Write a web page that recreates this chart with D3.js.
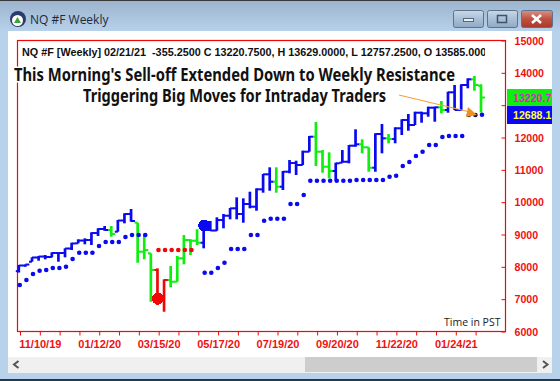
<!DOCTYPE html>
<html lang="en">
<head>
<meta charset="UTF-8">
<title>NQ #F Weekly</title>
<script src="https://d3js.org/d3.v7.min.js"></script>
<style>
    html, body { margin: 0; padding: 0; background: #fff; overflow: hidden; }
    svg { display: block; }
    .axis-label { font-family: "Liberation Sans", Arial, sans-serif; font-weight: bold; font-size: 11px; fill: #f01010; }
    .price-label { font-size: 10.6px; }
    .header { font-family: "Liberation Sans", Arial, sans-serif; font-weight: bold; font-size: 10.8px; fill: #101010; }
    .headline { font-family: "Noto Sans", sans-serif; font-weight: bold; font-size: 18px; fill: #111; stroke: #fff; stroke-width: 3px; paint-order: stroke; }
</style>
</head>
<body>
<svg id="chart" width="560" height="381"></svg>
<script>
// weekly bars, first one is the week of 10/20/19
const highs = [8041,8056,8279,8319,8350,8433,8433,8557,8730,8835,8866,9052,9176,9247,9247,9432,9640,9773,9349,8938,8402,7938,7598,8010,8319,8968,8835,9145,9349,9402,9516,9618,9804,10134,10103,10308,10413,10855,11062,11062,10948,11288,11267,11576,12031,12464,11597,11526,11205,11597,11752,12238,11928,11681,12114,12402,12092,12300,12547,12711,12782,12782,12937,12937,13113,13401,13608,13630,13815,13886,13629];
const lows = [7809,7988,8143,8174,8217,8279,8143,8279,8504,8712,8681,8659,8938,9101,8916,9071,9330,9380,8112,8217,6905,6803,6596,7351,7524,8062,8350,8659,8557,9101,9101,9176,9454,9454,9349,9794,9720,10277,10339,10277,10360,10877,10824,11134,11545,11103,10895,10722,10648,11205,11186,11700,11495,10926,10926,11495,11805,11805,12061,12194,12371,12442,12627,12473,12733,12751,12835,12813,13506,13432,12757];
const closes = [8025,8056,8273,8303,8288,8412,8412,8551,8706,8798,8814,9030,9154,9123,8999,9417,9618,9401,8452,8504,7886,7082,7577,7524,8248,8814,8792,8730,9123,9108,9432,9565,9794,9618,9927,9844,10382,10846,10617,10462,10926,11195,11134,11545,12009,11545,11081,10948,11186,11235,11731,11774,11681,11050,12092,11959,11938,12269,12525,12371,12751,12733,12906,12918,12835,13382,12835,13608,13784,13608,13220.75];
const opens = [7850,8025,8143,8273,8303,8288,8412,8412,8551,8712,8798,8814,9030,9154,9123,9071,9417,9618,9349,8452,8402,7886,7082,7577,7524,8248,8814,8792,8730,9123,9108,9432,9565,9794,9618,9927,9844,10382,10846,10617,10462,10926,11195,11134,11545,12009,11545,11081,10948,11205,11235,11731,11774,11681,11050,12092,11959,11938,12269,12525,12371,12751,12733,12906,12918,12835,13382,12835,13608,13784,13585];
// 1 blue, 2 green, 3 red
const barState = [1,1,1,1,1,1,1,1,1,1,1,1,1,1,2,1,1,1,2,2,2,3,3,2,2,2,2,2,1,1,1,1,1,1,1,1,1,1,1,2,1,1,1,1,1,2,2,2,1,1,1,1,2,2,1,1,2,1,1,1,1,1,1,1,2,1,1,1,1,2,2];
const stops = [7422,7577,7762,7864,7886,7948,7948,7988,8226,8421,8421,8421,8628,8752,8752,8752,8907,8970,8970,8970,null,8505,8505,8505,8505,8505,8505,null,7802,7802,7948,8112,8536,8536,8536,8970,8970,9411,9473,9473,9473,9927,9927,10206,10648,10648,10648,10648,10648,10648,10648,10670,10670,10670,10670,10670,10772,10803,11103,11226,11412,11545,11752,11752,11999,12030,12030,12030,12680,12680,12688];
// 1 blue, 2 red, 3 black
const stopState = [1,1,1,1,1,1,1,1,1,1,1,1,1,1,1,1,1,1,1,1,1,2,2,2,2,2,2,1,1,1,1,1,1,1,1,1,1,1,1,1,1,1,1,1,1,1,1,1,1,1,1,1,1,1,1,1,1,1,1,1,1,1,1,1,1,1,1,1,3,3,1];
const bigDots = [{ bar: 21, price: 7000, state: 2 }, { bar: 28, price: 9260, state: 1 }];

const dateLabels = ["11/10/19","01/12/20","03/15/20","05/17/20","07/19/20","09/20/20","11/22/20","01/24/21"];
const labelBars = [3,12,21,30,39,48,57,66];
const xTickBars = d3.range(0, 70, 3);
const priceTicks = [6000,7000,8000,9000,10000,11000,12000,13000,14000,15000];
const hiddenPriceLabel = 13000; // sits under the badges

const headerText = "NQ #F [Weekly] 02/21/21  -355.2500 C 13220.7500, H 13629.0000, L 12757.2500, O 13585.0000";
const headlines = ["This Morning's Sell-off Extended Down to Weekly Resistance", "Triggering Big Moves for Intraday Traders"];
const lastPrices = ["13220.7", "12688.1"];

const svg = d3.select("#chart");
const defs = svg.append("defs");

const grad = defs.append("linearGradient").attr("id", "titlebar").attr("x1", 0).attr("y1", 0).attr("x2", 0).attr("y2", 1);
grad.append("stop").attr("offset", "0%").attr("stop-color", "#9bb3cc");
grad.append("stop").attr("offset", "100%").attr("stop-color", "#b9d2ec");

const btnGrad = defs.append("linearGradient").attr("id", "btn").attr("x1", 0).attr("y1", 0).attr("x2", 0).attr("y2", 1);
btnGrad.append("stop").attr("offset", "0%").attr("stop-color", "#c8d8e8");
btnGrad.append("stop").attr("offset", "50%").attr("stop-color", "#a9bfd6");
btnGrad.append("stop").attr("offset", "100%").attr("stop-color", "#90a9c4");

const closeGrad = defs.append("linearGradient").attr("id", "btnClose").attr("x1", 0).attr("y1", 0).attr("x2", 0).attr("y2", 1);
closeGrad.append("stop").attr("offset", "0%").attr("stop-color", "#d8938a");
closeGrad.append("stop").attr("offset", "50%").attr("stop-color", "#c0503f");
closeGrad.append("stop").attr("offset", "100%").attr("stop-color", "#a83a2c");

defs.append("clipPath").attr("id", "headerClip").append("rect").attr("x", 18).attr("y", 41).attr("width", 467).attr("height", 22);
defs.append("clipPath").attr("id", "badgeClip").append("rect").attr("x", 507).attr("y", 89).attr("width", 45).attr("height", 35);

// window frame
svg.append("rect").attr("width", 560).attr("height", 381).attr("fill", "#b9d2ec");
svg.append("rect").attr("width", 560).attr("height", 32).attr("fill", "url(#titlebar)");
svg.append("rect").attr("width", 560).attr("height", 1).attr("fill", "#3a3a3a");
svg.append("rect").attr("y", 379).attr("width", 560).attr("height", 2).attr("fill", "#1f3a44");
svg.append("rect").attr("x", 8).attr("y", 31).attr("width", 544).attr("height", 326).attr("fill", "#fff");

// title bar
svg.append("circle").attr("cx", 18).attr("cy", 19).attr("r", 8).attr("fill", "#2d3a6e");
svg.append("circle").attr("cx", 17.5).attr("cy", 20.5).attr("r", 5.5).attr("fill", "#fff");
svg.append("path").attr("d", "M14 23L17.5 17L21 23Z").attr("fill", "#3aa53a");
svg.append("text").attr("x", 30).attr("y", 24).attr("font-family", "'Open Sans', sans-serif").attr("font-size", 12).attr("fill", "#1c2a3a").text("NQ #F Weekly");

const buttons = [[453, 30, "url(#btn)"], [487, 30, "url(#btn)"], [521, 31, "url(#btnClose)"]];
svg.selectAll("rect.winbtn").data(buttons).enter().append("rect")
    .attr("class", "winbtn")
    .attr("x", d => d[0] + 0.5).attr("y", 10.5)
    .attr("width", d => d[1]).attr("height", 17).attr("rx", 2)
    .attr("fill", d => d[2]).attr("stroke", "#5c7389");
svg.append("rect").attr("x", 463.5).attr("y", 18.5).attr("width", 10).attr("height", 3).attr("fill", "#e8eef4").attr("stroke", "#55697d");
svg.append("rect").attr("x", 497.5).attr("y", 15.5).attr("width", 9).attr("height", 7).attr("fill", "none").attr("stroke", "#3f5266").attr("stroke-width", 1.5);
svg.append("path").attr("d", "M532 15L541 23M541 15L532 23").attr("stroke", "#fff").attr("stroke-width", 2.6);

// scroll bar
svg.append("rect").attr("x", 8).attr("y", 357).attr("width", 544).attr("height", 16).attr("fill", "#f0f0f0");
svg.append("rect").attr("x", 305).attr("y", 357).attr("width", 232).attr("height", 15).attr("fill", "#cdcdcd");
svg.append("path").attr("d", "M18.5 361L14 364.5L18.5 368").attr("fill", "none").attr("stroke", "#555").attr("stroke-width", 2);
svg.append("path").attr("d", "M543 361L547.5 364.5L543 368").attr("fill", "none").attr("stroke", "#555").attr("stroke-width", 2);

// scales
const x = d3.scaleLinear().domain([0, 70]).range([18.8, 481]);
const y = d3.scaleLinear().domain([6000, 15000]).range([331, 40]);
const barColor = d3.scaleOrdinal().domain([1, 2, 3]).range(["#0a0af0", "#10ee10", "#f00808"]);
const stopColor = d3.scaleOrdinal().domain([1, 2, 3]).range(["#0a0af0", "#f00808", "#101040"]);

// plot frame
svg.append("rect").attr("x", 17.5).attr("y", 40.5).attr("width", 488).attr("height", 291)
    .attr("fill", "none").attr("stroke", "#f00808").attr("stroke-width", 1.2);

// x axis: a tick every third bar, a label every ninth
const xAxis = d3.axisBottom(x).tickValues(xTickBars).tickSize(4).tickSizeOuter(0)
    .tickFormat(d => { const k = labelBars.indexOf(d); return k < 0 ? "" : dateLabels[k]; });
const gx = svg.append("g").attr("transform", "translate(1.2,331.5)").call(xAxis);
gx.select(".domain").remove();
gx.selectAll("line").attr("stroke", "#f00808");
gx.selectAll("text").attr("class", "axis-label").attr("y", 9).attr("dy", "0.71em").attr("text-anchor", "middle");

// price axis
const yAxis = d3.axisRight(y).tickValues(priceTicks).tickSize(-4).tickSizeOuter(0)
    .tickFormat(d => d === hiddenPriceLabel ? "" : d3.format("d")(d));
const gy = svg.append("g").attr("transform", "translate(505.5,0.5)").call(yAxis);
gy.select(".domain").remove();
gy.selectAll("line").attr("stroke", "#f00808");
gy.selectAll("text").attr("class", "axis-label price-label").attr("x", 9).attr("dy", "0.35em");

// bars
const bars = svg.append("g").selectAll("g").data(highs).enter().append("g")
    .attr("stroke", (d, i) => barColor(barState[i]));
bars.append("line")
    .attr("stroke-width", 2.7)
    .attr("x1", (d, i) => x(i)).attr("x2", (d, i) => x(i))
    .attr("y1", d => y(d)).attr("y2", (d, i) => y(lows[i]));
bars.append("line")
    .attr("stroke-width", 2)
    .attr("x1", (d, i) => x(i) - 3).attr("x2", (d, i) => x(i))
    .attr("y1", (d, i) => y(opens[i])).attr("y2", (d, i) => y(opens[i]));
bars.append("line")
    .attr("stroke-width", 2)
    .attr("x1", (d, i) => x(i)).attr("x2", (d, i) => x(i) + 4)
    .attr("y1", (d, i) => y(closes[i])).attr("y2", (d, i) => y(closes[i]));

// stop dots
const stopRows = stops.map((price, bar) => ({ bar, price, state: stopState[bar] })).filter(d => d.price !== null);
svg.append("g").selectAll("circle").data(stopRows).enter().append("circle")
    .attr("cx", d => x(d.bar) + 1)
    .attr("cy", d => y(d.price))
    .attr("r", 2.3)
    .attr("fill", d => stopColor(d.state));

svg.append("g").attr("shape-rendering", "crispEdges").selectAll("circle").data(bigDots).enter().append("circle")
    .attr("cx", d => x(d.bar) + 0.5)
    .attr("cy", d => y(d.price))
    .attr("r", 6)
    .attr("fill", d => stopColor(d.state));

// badges with the last values
svg.append("rect").attr("x", 507).attr("y", 89).attr("width", 45).attr("height", 17).attr("fill", "#10ee10");
svg.append("rect").attr("x", 507).attr("y", 106).attr("width", 45).attr("height", 18).attr("fill", "#0a0af0");
const badge = svg.append("g").attr("clip-path", "url(#badgeClip)");
badge.append("text").attr("class", "axis-label price-label").attr("x", 513).attr("y", y(closes[70]) + 4.5).style("fill", "#e020d0").text(lastPrices[0]);
badge.append("text").attr("class", "axis-label price-label").attr("x", 513).attr("y", y(stops[70]) + 4).style("fill", "#ffff40").text(lastPrices[1]);

// header and headlines
svg.append("g").attr("clip-path", "url(#headerClip)").append("text")
    .attr("class", "header").attr("x", 22).attr("y", 56).attr("xml:space", "preserve").text(headerText);

svg.append("text").attr("class", "headline").attr("x", 14).attr("y", 81)
    .attr("textLength", 441).attr("lengthAdjust", "spacingAndGlyphs").text(headlines[0]);
svg.append("text").attr("class", "headline").attr("x", 83).attr("y", 102)
    .attr("textLength", 303).attr("lengthAdjust", "spacingAndGlyphs").text(headlines[1]);

svg.append("text").attr("x", 444).attr("y", 326).attr("font-family", "'Open Sans', sans-serif").attr("font-size", 10.5).attr("fill", "#222").text("Time in PST");

// arrow
svg.append("line").attr("x1", 399).attr("y1", 95).attr("x2", 470).attr("y2", 112).attr("stroke", "#f2a33c").attr("stroke-width", 1.2);
svg.append("path").attr("d", "M468 107L477 115L466 117Z").attr("fill", "#f09020");
</script>
</body>
</html>
